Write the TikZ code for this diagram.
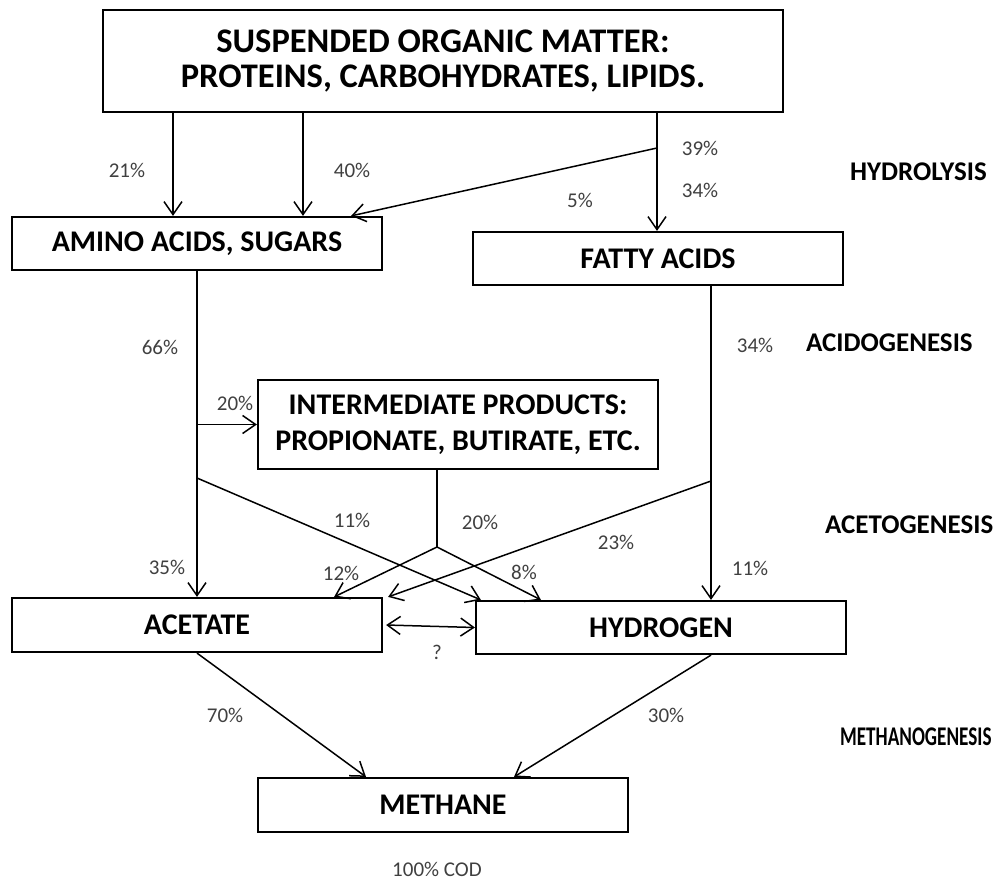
\documentclass[tikz,border=0pt]{standalone}
\usepackage{fontspec}
\usepackage{graphicx}
\setmainfont{Carlito}
\usetikzlibrary{arrows.meta}
\begin{document}
\begin{tikzpicture}[x=1pt, y=-1pt, >={Straight Barb[length=13pt,width=18pt]}, line width=1.5pt,
  box/.style={draw, line width=2.2pt, inner sep=0pt, align=center, font=\fontsize{30}{36}\selectfont\bfseries},
  pct/.style={text=black!75, font=\fontsize{21}{25}\selectfont},
  phase/.style={anchor=west, font=\fontsize{27}{32}\selectfont\bfseries}]
\useasboundingbox (0,0) rectangle (995,880);
% boxes
\node[box, minimum width=680pt, minimum height=102pt, font=\fontsize{34.5}{35}\selectfont\bfseries] (som) at (443,61) {SUSPENDED ORGANIC MATTER:\\PROTEINS, CARBOHYDRATES, LIPIDS.};
\node[box, minimum width=370pt, minimum height=53pt] (amino) at (197,243.5) {AMINO ACIDS, SUGARS};
\node[box, minimum width=370pt, minimum height=53pt] (fatty) at (658,258.5) {FATTY ACIDS};
\node[box, minimum width=400pt, minimum height=89pt] (inter) at (458,424.5) {INTERMEDIATE PRODUCTS:\\PROPIONATE, BUTIRATE, ETC.};
\node[box, minimum width=370pt, minimum height=54pt] (acetate) at (197,625) {ACETATE};
\node[box, minimum width=370pt, minimum height=53pt] (hydrogen) at (661,627.5) {HYDROGEN};
\node[box, minimum width=370pt, minimum height=54pt] (methane) at (443,805) {METHANE};
% columns and junctions
\coordinate (ca) at (173,0);
\coordinate (cb) at (303,0);
\coordinate (cc) at (657,0);
\coordinate (cf) at (711,0);
\coordinate (ci) at (437,0);
\coordinate (h39) at (657,148);
\coordinate (d11) at (197,478);
\coordinate (d23) at (711,481);
\coordinate (jn) at (437,547);
% hydrolysis
\draw[->] (som.south -| ca) -- (amino.north -| ca);
\draw[->] (som.south -| cb) -- (amino.north -| cb);
\draw[->] (som.south -| cc) -- (fatty.north -| cc);
\draw[->] (h39) -- ([xshift=-32pt]amino.north east);
% acidogenesis
\draw[->] (amino.south) -- (acetate.north);
\draw[->] (inter.west -| amino.south) -- (inter.west);
\draw[->] (fatty.south -| cf) -- (hydrogen.north -| cf);
% acetogenesis
\draw[->] (d11) -- ([xshift=6pt]hydrogen.north west);
\draw (inter.south -| ci) -- (jn);
\draw[->] (jn) -- ([xshift=-49pt]acetate.north east);
\draw[->] (jn) -- ([xshift=66pt]hydrogen.north west);
\draw[->] (d23) -- ([xshift=5pt]acetate.north east);
\draw[<->] ([xshift=3pt]acetate.east) -- (hydrogen.west);
% methanogenesis
\draw[->] (acetate.south) -- ([xshift=-77pt]methane.north);
\draw[->] (hydrogen.south -| cf) -- ([xshift=71pt]methane.north);
% percentages
\node[pct] (p21) at (127,170) {21\%};
\node[pct] (p40) at (352,170) {40\%};
\node[pct] (p39) at (700,148) {39\%};
\node[pct] (p34a) at (700,190) {34\%};
\node[pct] (p5) at (580,200) {5\%};
\node[pct] (p66) at (160,347) {66\%};
\node[pct] (p34b) at (755,345) {34\%};
\node[pct] (p20a) at (235,403) {20\%};
\node[pct] (p11a) at (352,520) {11\%};
\node[pct] (p20b) at (480,522) {20\%};
\node[pct] (p23) at (616,542) {23\%};
\node[pct] (p12) at (341,573) {12\%};
\node[pct] (p8) at (524,572) {8\%};
\node[pct] (p35) at (167,567) {35\%};
\node[pct] (p11b) at (750,568) {11\%};
\node[pct] (q) at (437,652) {?};
\node[pct] (p70) at (225,715) {70\%};
\node[pct] (p30) at (666,715) {30\%};
\node[pct] (cod) at (437,869) {100\% COD};
% phases
\node[phase] (hyd) at (846,172) {HYDROLYSIS};
\node[phase] (acid) at (802,343) {ACIDOGENESIS};
\node[phase] (acet) at (821,525) {ACETOGENESIS};
\node[phase] (meth) at (836,737) {\scalebox{0.71}[1]{METHANOGENESIS}};
\end{tikzpicture}
\end{document}
